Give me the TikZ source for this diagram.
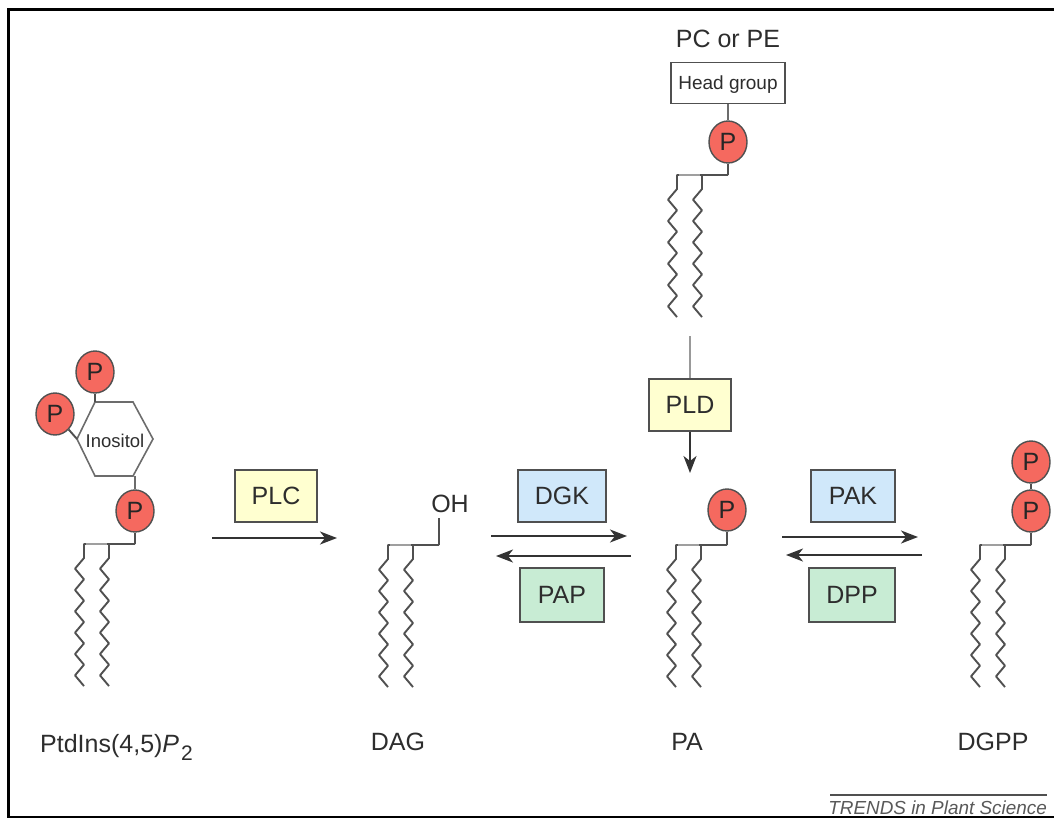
\documentclass[tikz,border=0pt]{standalone}
\usepackage{fontspec}
\setmainfont{Liberation Sans}
\usepackage{xcolor}
\usetikzlibrary{arrows.meta, positioning, shapes, calc}
\definecolor{phosred}{RGB}{245, 105, 95}
\definecolor{plcyellow}{RGB}{255, 255, 208}
\definecolor{kinaseblue}{RGB}{208, 232, 250}
\definecolor{phosgreen}{RGB}{200, 236, 212}
\definecolor{linegray}{RGB}{80, 80, 80}
\definecolor{textgray}{RGB}{45, 45, 45}

% two fatty acid tails, #3 names the end of the bond
\newcommand{\lipidtails}[3]{
    \coordinate (#3) at (#1,#2);
    \draw[bond, line join=round] (#3) -- ++(-51,0) -- ++(0,14) foreach \k in {1,...,6} {-- ++(-9,10.67) -- ++(9,10.67)};
    \draw[bond, line join=round] ($(#3)+(-26,0)$) -- ++(0,14) foreach \k in {1,...,6} {-- ++(-9,10.67) -- ++(9,10.67)};
    \draw[bond, draw=gray!75] ($(#3)+(-49,0)$) -- ($(#3)+(-28,0)$);
}

\begin{document}
\begin{tikzpicture}[
    x=1pt, y=-1pt,
    bond/.style={draw=linegray, line width=1.9pt, line join=miter},
    phos/.style={ellipse, draw=linegray, fill=phosred, line width=1.4pt, minimum width=38pt, minimum height=42pt, inner sep=0pt, text=black!85, font=\fontsize{25}{30}\selectfont},
    enzyme/.style={rectangle, draw=linegray, line width=1.8pt, inner sep=0pt, text=textgray, font=\fontsize{25}{30}\selectfont},
    label/.style={text=textgray, inner sep=0pt, font=\fontsize{25}{30}\selectfont},
    small/.style={text=textgray, inner sep=0pt, font=\fontsize{19}{23}\selectfont},
    arrow/.style={-{Stealth[length=17pt, width=13pt, inset=5pt]}, line width=1.9pt, draw=black!80}
]
\useasboundingbox (0,0) rectangle (1054,819);

% Frame
\draw[black, line width=2.8pt] (1054,9.5) -- (8.7,9.5) -- (8.7,817) -- (1054,817);

% PtdIns(4,5)P2
\lipidtails{135}{544}{bondA}
\node[phos] (pA) at (135,511) {P};
\node[phos] (pB) at (95,372) {P};
\node[phos] (pC) at (55,414) {P};
\node[small, font=\fontsize{18.5}{22}\selectfont] (inositol) at (115,441) {Inositol};
\coordinate (hexa) at (95,402);
\coordinate (hexb) at (133,402);
\coordinate (hexc) at (153,439);
\coordinate (hexd) at (133,476);
\coordinate (hexe) at (95,476);
\coordinate (hexf) at (77,439);
\draw[bond, line width=1.6pt, draw=gray!85!black] (hexa) -- (hexb) -- (hexc) -- (hexd) -- (hexe) -- (hexf) -- cycle;
\draw[bond] (pB) -- (hexa);
\draw[bond] (pC) -- (hexf);
\draw[bond, draw=gray!85!black] (hexd -| pA) -- (pA);
\draw[bond] (pA) -- (bondA);
\node[label, anchor=base west] (ptdins) at (40,752) {PtdIns(4,5)\textit{P}\kern2pt\raisebox{-8pt}{\fontsize{21}{24}\selectfont 2}};

% PLC step
\node[enzyme, fill=plcyellow, minimum width=82pt, minimum height=52pt] (plc) at (276,496) {PLC};
\coordinate (plcin) at (212,538);
\coordinate (plcout) at (337,538);
\draw[arrow] (plcin) -- (plcout);

% DAG
\lipidtails{439}{545}{bondD}
\node[label] (oh) at (450,504) {OH};
\coordinate (ohend) at (439,518);
\draw[bond] (bondD) -- (ohend);
\node[label] (dag) at (398,742) {DAG};

% DGK and PAP
\node[enzyme, fill=kinaseblue, minimum width=88pt, minimum height=52pt] (dgk) at (562,496) {DGK};
\node[enzyme, fill=phosgreen, minimum width=84pt, minimum height=54pt] (pap) at (562,595) {PAP};
\coordinate (dgkin) at (491,536);
\coordinate (dgkout) at (627,536);
\coordinate (papin) at (631,556);
\coordinate (papout) at (496,556);
\draw[arrow] (dgkin) -- (dgkout);
\draw[arrow] (papin) -- (papout);

% PC or PE
\node[label] (pcpe) at (728,39) {PC or PE};
\node[rectangle, draw=linegray, fill=white, line width=1.8pt, minimum width=114pt, minimum height=41pt, small, text depth=0pt] (head) at (728,83) {Head group};
\node[phos] (pD) at (728,142) {P};
\lipidtails{728}{175}{bondE}
\draw[bond, draw=gray!85!black] (head) -- (pD);
\draw[bond] (pD) -- (bondE);

% PLD step
\node[enzyme, fill=plcyellow, minimum width=82pt, minimum height=52pt] (pld) at (690,405) {PLD};
\coordinate (pldin) at (690,336);
\coordinate (pldout) at (690,473);
\draw[bond, draw=gray!80] (pldin) -- (pld);
\draw[arrow] (pld) -- (pldout);

% PA
\lipidtails{727}{545}{bondF}
\node[phos] (pE) at (727,510) {P};
\draw[bond] (pE) -- (bondF);
\node[label] (pa) at (687,742) {PA};

% PAK and DPP
\node[enzyme, fill=kinaseblue, minimum width=84pt, minimum height=52pt] (pak) at (853,496) {PAK};
\node[enzyme, fill=phosgreen, minimum width=86pt, minimum height=54pt] (dpp) at (852,595) {DPP};
\coordinate (pakin) at (782,537);
\coordinate (pakout) at (918,537);
\coordinate (dppin) at (922,555);
\coordinate (dppout) at (786,555);
\draw[arrow] (pakin) -- (pakout);
\draw[arrow] (dppin) -- (dppout);

% DGPP
\lipidtails{1031}{545}{bondG}
\node[phos] (pF) at (1031,511) {P};
\node[phos] (pG) at (1031,462) {P};
\draw[bond] (pG) -- (pF);
\draw[bond] (pF) -- (bondG);
\node[label] (dgpp) at (993,742) {DGPP};

% Journal line
\node[small, text=black!65, font=\fontsize{18.9}{22}\itshape, anchor=east] (trends) at (1047,808) {TRENDS in Plant Science};
\coordinate (rulea) at (830,795);
\coordinate (ruleb) at (1047,795);
\draw[bond, line width=1.5pt] (rulea) -- (ruleb);

\end{tikzpicture}
\end{document}
